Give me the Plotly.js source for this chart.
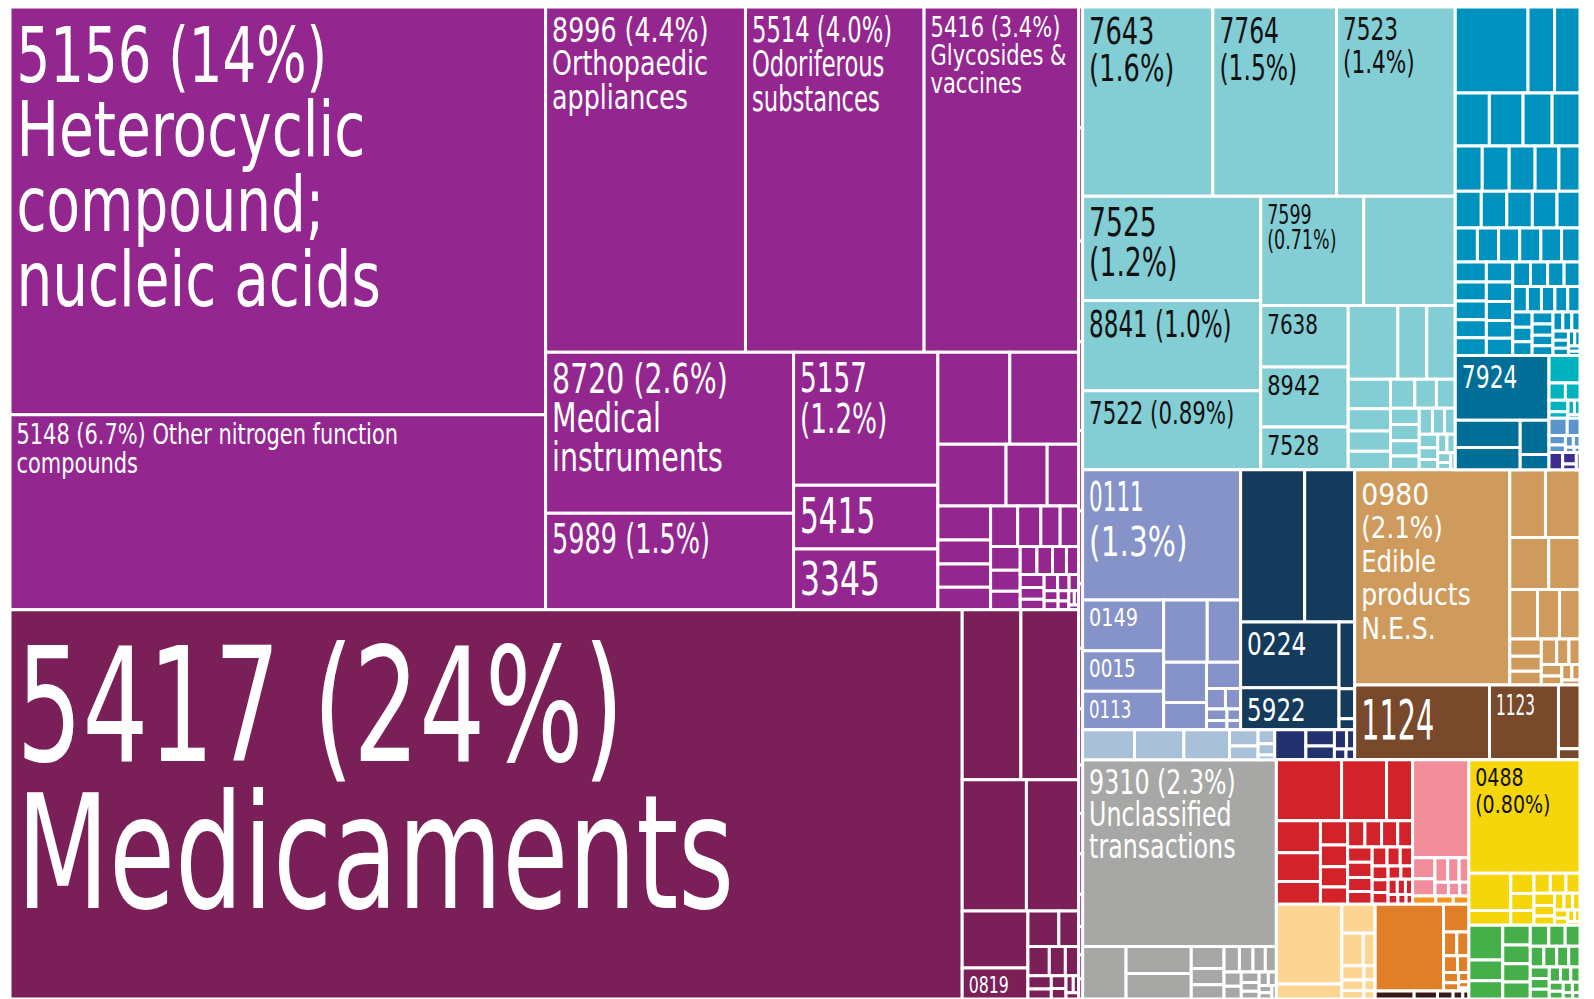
<!DOCTYPE html>
<html><head><meta charset="utf-8">
<script src="https://cdn.plot.ly/plotly-3.0.1.min.js"></script>
<style>html,body{margin:0;padding:0;background:#fff;}#chart{width:1594px;height:999px;}</style>
</head><body><div id="chart"></div>
<script>
// ---------- DATA (shares of total exports, %) ----------
const purpleCodes  = ['5156','5148','8996','5514','5416','8720','5989','5157','5415','3345'];
const purpleShares = [13.99, 6.69, 4.42, 3.95, 3.42, 2.56, 1.53, 1.23, 0.59, 0.56, 0.424, 0.406, 0.27, 0.163, 0.125, 0.115, 0.081, 0.078, 0.076, 0.07, 0.06, 0.05, 0.048, 0.045, 0.04, 0.035, 0.03, 0.028, 0.025, 0.022, 0.02, 0.018, 0.016, 0.014, 0.012, 0.01, 0.009, 0.008, 0.007, 0.006, 0.005, 0.004, 0.003];
const darkCodes    = ['5417','','','','','','0819'];
const darkShares   = [23.75, 0.64, 0.63, 0.54, 0.44, 0.24, 0.13, 0.07, 0.045, 0.04, 0.03, 0.025, 0.02, 0.015, 0.012, 0.01, 0.008, 0.006, 0.005];
const tinyShares   = [0.03, 0.028, 0.025, 0.022, 0.02, 0.018, 0.016, 0.015, 0.014, 0.012, 0.01, 0.01, 0.008, 0.007, 0.006, 0.005];
const tealCodes    = ['7643','7764','7523','7525','8841','7522','7599','','7638','8942','7528'];
const tealShares   = [1.58, 1.50, 1.44, 1.19, 1.03, 0.90, 0.72, 0.64, 0.346, 0.335, 0.24, 0.235, 0.137, 0.135, 0.08, 0.06, 0.055, 0.05, 0.045, 0.04, 0.035, 0.03, 0.03, 0.028, 0.025, 0.022, 0.02, 0.018, 0.016, 0.014, 0.012, 0.011, 0.01, 0.008, 0.006, 0.005];
const mblueShares  = [0.40, 0.146, 0.14, 0.116, 0.115, 0.099, 0.095, 0.078, 0.078, 0.075, 0.069, 0.061, 0.061, 0.06, 0.06, 0.058, 0.054, 0.048, 0.046, 0.046, 0.046, 0.045, 0.04, 0.04, 0.038, 0.037, 0.036, 0.035, 0.034, 0.033, 0.032, 0.03, 0.029, 0.028, 0.027, 0.026, 0.025, 0.024, 0.023, 0.022, 0.021, 0.02, 0.019, 0.018, 0.017, 0.016, 0.015, 0.014, 0.013, 0.012, 0.011, 0.01, 0.009, 0.008, 0.007, 0.006, 0.005, 0.004, 0.003];
const dblueCodes   = ['7924'];
const dblueShares  = [0.39, 0.113, 0.092, 0.063, 0.028];
const cyanShares   = [0.055, 0.018, 0.016, 0.014, 0.008, 0.006, 0.005, 0.003];
const lblueShares  = [0.02, 0.014, 0.01, 0.008, 0.006, 0.005, 0.003, 0.002];
const indigoShares = [0.015, 0.01, 0.005, 0.004];
const lavCodes     = ['0111','0149','0015','0113'];
const lavShares    = [1.32, 0.263, 0.21, 0.2, 0.174, 0.133, 0.11, 0.075, 0.057, 0.025, 0.02, 0.015, 0.012, 0.01, 0.008];
const navyCodes    = ['','','0224','5922'];
const navyShares   = [0.625, 0.488, 0.415, 0.264, 0.067, 0.03, 0.011];
const paleShares   = [0.1, 0.095, 0.088, 0.03, 0.025, 0.015, 0.012, 0.005];
const navy2Shares  = [0.06, 0.03, 0.025, 0.015, 0.01, 0.008, 0.006];
const tanCodes     = ['0980'];
const tanShares    = [2.14, 0.155, 0.15, 0.13, 0.104, 0.088, 0.07, 0.065, 0.035, 0.03, 0.028, 0.025, 0.02, 0.018, 0.015, 0.012, 0.01, 0.008, 0.006];
const brownCodes   = ['1124','1123'];
const brownShares  = [0.645, 0.33, 0.088, 0.015];
const greyCodes    = ['9310'];
const greyShares   = [2.32, 0.146, 0.112, 0.107, 0.046, 0.034, 0.03, 0.025, 0.022, 0.02, 0.018, 0.016, 0.014, 0.012, 0.01, 0.009, 0.008, 0.007, 0.006, 0.005, 0.004];
const redShares    = [0.255, 0.176, 0.102, 0.09, 0.081, 0.064, 0.042, 0.038, 0.035, 0.03, 0.029, 0.028, 0.027, 0.025, 0.024, 0.024, 0.022, 0.02, 0.018, 0.016, 0.015, 0.014, 0.013, 0.012, 0.011, 0.01, 0.009, 0.008, 0.007, 0.006, 0.005, 0.004];
const pinkShares   = [0.352, 0.03, 0.025, 0.02, 0.018, 0.015, 0.012, 0.01, 0.008];
const orstripShares= [0.012, 0.009, 0.008];
const peachShares  = [0.334, 0.063, 0.062, 0.045, 0.025, 0.02, 0.015, 0.012, 0.01, 0.008, 0.006];
const orangeShares = [0.38, 0.045, 0.02, 0.018, 0.015, 0.012, 0.01, 0.008, 0.006, 0.004, 0.002];
const maroonShares = [0.02, 0.012, 0.008, 0.005, 0.003];
const yellowCodes  = ['0488'];
const yellowShares = [0.81, 0.1, 0.04, 0.03, 0.025, 0.022, 0.021, 0.02, 0.018, 0.016, 0.014, 0.012, 0.01, 0.009, 0.008, 0.007, 0.006, 0.005, 0.004, 0.003];
const greenShares  = [0.076, 0.045, 0.04, 0.035, 0.033, 0.032, 0.03, 0.025, 0.022, 0.02, 0.018, 0.017, 0.016, 0.015, 0.014, 0.013, 0.012, 0.011, 0.01, 0.009, 0.008, 0.007, 0.006, 0.005, 0.004, 0.003];

// product labels as printed in the boxes
const labelText = {
  '5156':'5156 (14%)<br>Heterocyclic<br>compound;<br>nucleic acids',
  '5148':'5148 (6.7%) Other nitrogen function<br>compounds',
  '8996':'8996 (4.4%)<br>Orthopaedic<br>appliances',
  '5514':'5514 (4.0%)<br>Odoriferous<br>substances',
  '5416':'5416 (3.4%)<br>Glycosides &amp;<br>vaccines',
  '8720':'8720 (2.6%)<br>Medical<br>instruments',
  '5989':'5989 (1.5%)', '5157':'5157<br>(1.2%)', '5415':'5415', '3345':'3345',
  '5417':'5417 (24%)<br>Medicaments', '0819':'0819',
  '7643':'7643<br>(1.6%)', '7764':'7764<br>(1.5%)', '7523':'7523<br>(1.4%)',
  '7525':'7525<br>(1.2%)', '7599':'7599<br>(0.71%)', '8841':'8841 (1.0%)', '7522':'7522 (0.89%)',
  '7638':'7638', '8942':'8942', '7528':'7528', '7924':'7924',
  '0111':'0111<br>(1.3%)', '0149':'0149', '0015':'0015', '0113':'0113', '0224':'0224', '5922':'5922',
  '0980':'0980<br>(2.1%)<br>Edible<br>products<br>N.E.S.',
  '1124':'1124', '1123':'1123',
  '9310':'9310 (2.3%)<br>Unclassified<br>transactions',
  '0488':'0488<br>(0.80%)'
};

// hierarchy of (invisible) grouping nodes
const groupIds     = ['ALL','CHEM','PURPLE','DARK','TINY','TB','TEAL','BLUE','MBLUE','DBLUE','CYAN','LBLUE','INDIGO','F1','LAV','NAVY','PALE','NAVY2','F2','TAN','BROWN','GREY','RY','R','RED','PINKCOL','PINK','ORSTRIP','PEACH','ORCOL','ORANGE','MAROON','Y','YELLOW','GREEN'];
const groupParents = ['','ALL','CHEM','CHEM','CHEM','ALL','TB','TB','BLUE','BLUE','BLUE','BLUE','BLUE','ALL','F1','F1','F1','F1','ALL','F2','F2','ALL','ALL','RY','R','R','PINKCOL','PINKCOL','R','R','ORCOL','ORCOL','RY','Y','Y'];

// ---------- STYLE ----------
const groupColor = {
  PURPLE:'#93278f', DARK:'#7a1f58', TINY:'#93278f', TEAL:'#83cdd4', MBLUE:'#0092bf', DBLUE:'#006f98',
  CYAN:'#00b3bf', LBLUE:'#5b95cd', INDIGO:'#3c2d8e', LAV:'#8593c8', NAVY:'#143a5c', PALE:'#a8c1d8',
  NAVY2:'#23326f', TAN:'#cf9b5d', BROWN:'#784a2b', GREY:'#a7a8a5', RED:'#d2232a', PINK:'#f28e9b',
  ORSTRIP:'#f7941d', PEACH:'#fdd592', ORANGE:'#e07f27', MAROON:'#3b1818', YELLOW:'#f5d60b', GREEN:'#45b04a'
};
const darkText = {TEAL:true, YELLOW:true};
// label style: [font size px, horizontal squeeze (per label or per line), line spacing em, extra top offset px]
const labelStyle = {
  '5156':[77,[0.765,0.816,0.79,0.815],0.97,0], '5148':[28,0.83,1.05,0], '8996':[34.3,0.82,0.98,0], '5514':[35,0.72,0.98,0],
  '5416':[28.8,0.81,0.97,0], '8720':[41,0.77,0.95,0], '5989':[40,0.71,1,0], '5157':[40,0.73,1.02,0],
  '5415':[49,0.67,1,0], '3345':[46.6,0.75,1,0], '5417':[159,[0.724,0.75],0.925,0], '0819':[23,0.76,1,0],
  '7643':[36.6,0.78,1.03,0], '7764':[35.7,0.73,1.03,0], '7523':[32,0.75,1.02,0], '7525':[38.9,0.76,1.03,0],
  '7599':[27.4,0.71,0.91,0], '8841':[36.6,0.70,1,0], '7522':[32,0.74,1,0], '7638':[27.4,0.81,1,0],
  '8942':[27.4,0.85,1,0], '7528':[27.4,0.83,1,0], '7924':[32,0.76,1,0], '0111':[41.2,[0.58,0.80],1.09,0],
  '0149':[25.2,0.85,1,0], '0015':[25.2,0.81,1,0], '0113':[25.2,0.73,1,0], '0224':[32,0.81,1,0],
  '5922':[32,0.80,1,0], '0980':[29.7,[1.0,0.92,0.91,0.94,0.94],1.13,4], '1124':[55,0.58,1,0], '1123':[28.4,0.60,1,0],
  '9310':[33.4,0.79,0.95,0], '0488':[25.2,0.84,1.06,0]
};
const PRE = 0.6;     // size used by the treemap fitter before stretching
const ASC = 0.928;   // font ascent (em)
const INSET = 3.5;   // extra left inset of labels (px)
const FONT = '"DejaVu Sans Condensed", "Liberation Sans Narrow", "Arial Narrow", sans-serif';

const leafGroups = [
  ['PURPLE', purpleShares, purpleCodes], ['DARK', darkShares, darkCodes], ['TINY', tinyShares, []],
  ['TEAL', tealShares, tealCodes], ['MBLUE', mblueShares, []], ['DBLUE', dblueShares, dblueCodes],
  ['CYAN', cyanShares, []], ['LBLUE', lblueShares, []], ['INDIGO', indigoShares, []],
  ['LAV', lavShares, lavCodes], ['NAVY', navyShares, navyCodes], ['PALE', paleShares, []], ['NAVY2', navy2Shares, []],
  ['TAN', tanShares, tanCodes], ['BROWN', brownShares, brownCodes], ['GREY', greyShares, greyCodes],
  ['RED', redShares, []], ['PINK', pinkShares, []], ['ORSTRIP', orstripShares, []], ['PEACH', peachShares, []],
  ['ORANGE', orangeShares, []], ['MAROON', maroonShares, []], ['YELLOW', yellowShares, yellowCodes], ['GREEN', greenShares, []]
];

const ids = [], labels = [], parents = [], values = [], colors = [], texts = [], sizes = [], fcolors = [];
groupIds.forEach((g, i) => {
  ids.push(g); labels.push(''); parents.push(groupParents[i]); values.push(0);
  colors.push(groupColor[g] || '#ffffff'); texts.push(''); sizes.push(10); fcolors.push('#fff');
});
leafGroups.forEach(([g, shares, codes]) => {
  shares.forEach((v, i) => {
    const code = codes[i] || '';
    ids.push(g + '_' + i); labels.push(code); parents.push(g); values.push(v);
    colors.push(groupColor[g]);
    texts.push(code ? labelText[code] : '');
    sizes.push(code ? labelStyle[code][0] * PRE : 10);
    fcolors.push(darkText[g] ? '#111111' : '#ffffff');
  });
});

const trace = {
  type: 'treemap', ids, labels, parents, values, text: texts,
  branchvalues: 'remainder', sort: false,
  texttemplate: '%{text}', textposition: 'top left',
  textfont: {family: FONT, size: sizes, color: fcolors},
  marker: {colors, line: {color: '#ffffff', width: 3}, pad: {t: 0, l: 0, r: 0, b: 0}, depthfade: false},
  leaf: {opacity: 1},
  tiling: {packing: 'squarify', squarifyratio: 1.618034, pad: 0},
  pathbar: {visible: false},
  hoverinfo: 'skip'
};

// condensed-type look: enlarge, squeeze horizontally and tighten leading of each label
function restyleLabels(gd) {
  gd.querySelectorAll('g.slice text').forEach(t => {
    const code = (t.textContent || '').slice(0, 4);
    const st = labelStyle[code];
    if (!st) return;
    const [s1, k, ls, off] = st;
    const shift = ASC * (s1 - s1 * PRE) + off;
    t.style.fontSize = s1 + 'px';
    const lines = t.querySelectorAll('tspan.line');
    const targets = lines.length ? Array.from(lines) : [t];
    targets.forEach((ln, i) => {
      const x0 = parseFloat(ln.getAttribute('x')) || 0;
      ln.setAttribute('x', x0 + INSET);
      ln.setAttribute('dy', shift + i * ls * s1);
      const L = ln.getComputedTextLength();
      const kk = Array.isArray(k) ? k[Math.min(i, k.length - 1)] : k;
      ln.setAttribute('textLength', L * kk);
      ln.setAttribute('lengthAdjust', 'spacingAndGlyphs');
    });
  });
}

Plotly.newPlot('chart', [trace], {
  width: 1594, height: 999, margin: {l: 10, r: 14, t: 7, b: 0},
  paper_bgcolor: '#ffffff', showlegend: false
}, {staticPlot: true, displayModeBar: false}).then(restyleLabels);
</script></body></html>
